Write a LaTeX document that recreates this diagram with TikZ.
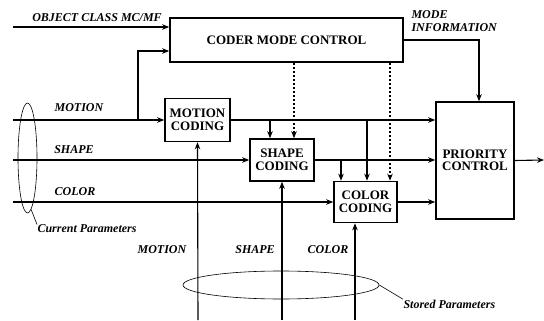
\documentclass[tikz,border=0pt]{standalone}
\usepackage{fontspec}
\setmainfont{Liberation Serif}
\usetikzlibrary{arrows.meta,shapes.geometric}
\begin{document}
\begin{tikzpicture}[x=1pt,y=-1pt,line width=1.1pt,>={Stealth[length=7pt,width=5.5pt]},
  blk/.style={draw,line width=1.6pt,inner sep=0pt,align=center,font=\bfseries\fontsize{13}{12.5}\selectfont},
  lbl/.style={inner sep=0pt,font=\bfseries\itshape\fontsize{12}{12.5}\selectfont},
  ovalp/.style={draw,ellipse,line width=0.6pt,inner sep=0pt},
  ctl/.style={->,dash pattern=on 2pt off 2pt}]
% 编码模式控制框图
\useasboundingbox (0,0) rectangle (544,321);
\node[blk,minimum width=233pt,minimum height=44pt] (cmc) at (286.5,40) {CODER MODE CONTROL};
\node[blk,minimum width=65pt,minimum height=43pt] (mot) at (197.5,120) {MOTION\\CODING};
\node[blk,minimum width=64pt,minimum height=42pt] (shp) at (282,160) {SHAPE\\CODING};
\node[blk,minimum width=63pt,minimum height=41pt] (col) at (365.5,202) {COLOR\\CODING};
\node[blk,minimum width=78pt,minimum height=117pt] (pri) at (475,160.5) {PRIORITY\\CONTROL};
\node[ovalp,minimum width=19pt,minimum height=110pt] (cur) at (27.5,158) {};
\node[ovalp,minimum width=196pt,minimum height=28pt] (sto) at (281,285) {};
\node[lbl] (objl) at (97,17.5) {OBJECT CLASS MC/MF};
\node[lbl,align=left,anchor=west] (model) at (411,21) {MODE\\INFORMATION};
\node[lbl] (motl) at (79,108) {MOTION};
\node[lbl] (shpl) at (74,150) {SHAPE};
\node[lbl] (coll) at (75,192) {COLOR};
\node[lbl] (motb) at (162,250) {MOTION};
\node[lbl] (shpb) at (255,250) {SHAPE};
\node[lbl] (colb) at (328,250) {COLOR};
\node[lbl,anchor=west] (curl) at (37,229) {Current Parameters};
\node[lbl,anchor=west] (stol) at (403,304) {Stored Parameters};
\coordinate (objin) at (13,27);
\coordinate (motin) at (13,120);
\coordinate (shpin) at (13,160);
\coordinate (colin) at (13,202);
\coordinate (jm) at (138,120);
\coordinate (xt1) at (270,0);
\coordinate (xd1) at (294,0);
\coordinate (xt2) at (341,0);
\coordinate (xt3) at (367,0);
\coordinate (xd2) at (390,0);
\coordinate (xm) at (479,0);
\coordinate (motbot) at (198,320);
\coordinate (shpbot) at (282,320);
\coordinate (colbot) at (355,320);
\coordinate (out) at (544,160);
\draw[->] (objin) -- (cmc.west |- objin);
\draw (motin) -- (jm);
\draw[->] (jm) -- (mot.west);
\draw[->] (jm) |- ([yshift=-11pt]cmc.west);
\draw[->] (shpin) -- (shp.west);
\draw[->] (colin) -- (col.west);
\draw[->] (mot.east) -- (pri.west |- mot.east);
\draw[->] (shp.east) -- (pri.west |- shp.east);
\draw[->] (col.east) -- (pri.west |- col.east);
\draw[->] (mot.east -| xt1) -- (shp.north -| xt1);
\draw[->] (mot.east -| xt3) -- (col.north -| xt3);
\draw[->] (shp.east -| xt2) -- (col.north -| xt2);
\draw[ctl] (cmc.south -| xd1) -- (shp.north -| xd1);
\draw[ctl] (cmc.south -| xd2) -- (col.north -| xd2);
\draw[->] (cmc.east) -| (pri.north -| xm);
\draw[->] (pri.east) -- (out);
\draw[->] (motbot) -- (mot.south);
\draw[->] (shpbot) -- (shp.south);
\draw[->] (colbot) -- (col.south -| colbot);
\draw[line width=0.6pt] (cur.-86) -- (curl.north west);
\draw[line width=0.6pt] (sto.east) -- (stol.north west);
\end{tikzpicture}
\end{document}
